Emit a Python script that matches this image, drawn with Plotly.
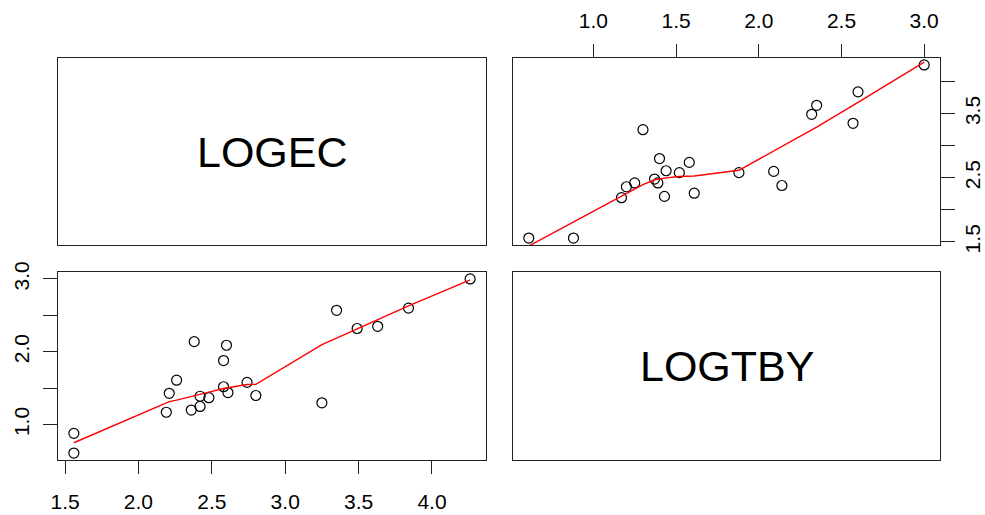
import numpy as np
import plotly.graph_objects as go

# Log-transformed measurements, one entry per observation
LOGEC = [1.56, 1.56, 2.19, 2.21, 2.26, 2.38, 2.36, 2.42, 2.42, 2.48, 2.58,
         2.58, 2.60, 2.61, 2.74, 2.80, 3.25, 3.35, 3.49, 3.63, 3.84, 4.26]
LOGTBY = [0.88, 0.61, 1.17, 1.43, 1.61, 2.14, 1.20, 1.25, 1.39, 1.37, 1.52,
          1.88, 2.09, 1.44, 1.58, 1.40, 1.30, 2.57, 2.32, 2.35, 2.60, 3.00]

VAR_NAMES = ["LOGEC", "LOGTBY"]
TICKS_LOGEC = [1.5, 2.0, 2.5, 3.0, 3.5, 4.0]
TICKS_LOGTBY_LOW = [1.0, 1.5, 2.0, 2.5, 3.0]
TICKS_LOGTBY_TOP = [1.0, 1.5, 2.0, 2.5, 3.0]


def _lowest(x, y, n, xs, nleft, nright, w, userw, rw):
    rng = x[n - 1] - x[0]
    h = max(xs - x[nleft], x[nright] - xs)
    h9, h1 = 0.999 * h, 0.001 * h
    a = 0.0
    j = nleft
    while j < n:
        w[j] = 0.0
        r = abs(x[j] - xs)
        if r <= h9:
            w[j] = 1.0 if r <= h1 else (1 - (r / h) ** 3) ** 3
            if userw:
                w[j] *= rw[j]
            a += w[j]
        elif x[j] > xs:
            break
        j += 1
    nrt = j - 1
    if a <= 0:
        return 0.0, False
    for k in range(nleft, nrt + 1):
        w[k] /= a
    if h > 0:
        a = sum(w[k] * x[k] for k in range(nleft, nrt + 1))
        b = xs - a
        c = sum(w[k] * (x[k] - a) ** 2 for k in range(nleft, nrt + 1))
        if np.sqrt(c) > 0.001 * rng:
            b /= c
            for k in range(nleft, nrt + 1):
                w[k] *= (b * (x[k] - a) + 1.0)
    ys = sum(w[k] * y[k] for k in range(nleft, nrt + 1))
    return ys, True


def lowess(xv, yv, f=2 / 3, iters=3):
    """Locally weighted scatterplot smoother (Cleveland's algorithm)."""
    order = np.argsort(np.asarray(xv, float), kind="stable")
    x = np.asarray(xv, float)[order]
    y = np.asarray(yv, float)[order]
    n = len(x)
    delta = 0.01 * (x[-1] - x[0])
    ns = max(min(int(f * n + 1e-7), n), 2)
    ys = np.zeros(n)
    rw = np.ones(n)
    res = np.zeros(n)
    for it in range(iters + 1):
        nleft, nright, last, i = 0, ns - 1, -1, 0
        while True:
            if nright < n - 1:
                d1 = x[i] - x[nleft]
                d2 = x[nright + 1] - x[i]
                if d1 > d2:
                    nleft += 1
                    nright += 1
                    continue
            val, ok = _lowest(x, y, n, x[i], nleft, nright, res, it > 0, rw)
            ys[i] = val if ok else y[i]
            if last < i - 1:
                denom = x[i] - x[last]
                for j in range(last + 1, i):
                    alpha = (x[j] - x[last]) / denom
                    ys[j] = alpha * ys[i] + (1 - alpha) * ys[last]
            last = i
            cut = x[last] + delta
            i = last + 1
            while i < n:
                if x[i] > cut:
                    break
                if x[i] == x[last]:
                    ys[i] = ys[last]
                    last = i
                i += 1
            i = max(last + 1, i - 1)
            if last >= n - 1:
                break
        res = y - ys
        sc = np.sum(np.abs(res)) / n
        if it >= iters:
            break
        rws = np.sort(np.abs(res))
        m1 = n // 2
        if n % 2 == 0:
            cmad = 3.0 * (rws[m1] + rws[n - m1 - 1])
        else:
            cmad = 6.0 * rws[m1]
        if cmad < 1e-7 * sc:
            break
        c9, c1 = 0.999 * cmad, 0.001 * cmad
        r = np.abs(res)
        rw = np.where(r <= c1, 1.0,
                      np.where(r <= c9, (1 - (r / cmad) ** 2) ** 2, 0.0))
        res = np.zeros(n)
    return x, ys


def padded(v):
    lo, hi = min(v), max(v)
    d = 0.04 * (hi - lo)
    return [lo - d, hi + d]


W, H = 985, 515
COL_L, COL_R = (58, 486), (513, 940)
ROW_T, ROW_B = (58, 245), (272, 460)


def xdom(c):
    return [c[0] / W, c[1] / W]


def ydom(r):
    return [(H - r[1]) / H, (H - r[0]) / H]


FONT = "Liberation Sans, Arial, Helvetica, sans-serif"
tickfont = dict(family=FONT, size=21, color="black")

fig = go.Figure()

# lower-left: LOGTBY against LOGEC
sx, sy = lowess(LOGEC, LOGTBY)
fig.add_trace(go.Scatter(x=LOGEC, y=LOGTBY, mode="markers", xaxis="x", yaxis="y",
                         marker=dict(symbol="circle-open", size=10, color="black",
                                     line=dict(width=1.2, color="black"))))
fig.add_trace(go.Scatter(x=sx, y=sy, mode="lines", xaxis="x", yaxis="y",
                         line=dict(color="red", width=1.4)))

# upper-right: LOGEC against LOGTBY
tx, ty = lowess(LOGTBY, LOGEC)
fig.add_trace(go.Scatter(x=LOGTBY, y=LOGEC, mode="markers", xaxis="x2", yaxis="y2",
                         marker=dict(symbol="circle-open", size=10, color="black",
                                     line=dict(width=1.2, color="black"))))
fig.add_trace(go.Scatter(x=tx, y=ty, mode="lines", xaxis="x2", yaxis="y2",
                         line=dict(color="red", width=1.4)))

box = dict(showline=True, linecolor="#222", linewidth=1, mirror=True,
           showgrid=False, zeroline=False, fixedrange=True, automargin=False)


def fmt(v):
    return f"{v:.1f}"


fig.update_layout(
    width=W, height=H, margin=dict(l=0, r=0, t=0, b=0, autoexpand=False),
    paper_bgcolor="white", plot_bgcolor="white", showlegend=False,
    xaxis=dict(domain=xdom(COL_L), anchor="y", side="bottom", range=padded(LOGEC),
               tickvals=TICKS_LOGEC, ticktext=[fmt(v) for v in TICKS_LOGEC],
               ticks="outside", ticklen=13, tickcolor="#222", tickfont=tickfont,
               ticklabelstandoff=10, **box),
    yaxis=dict(domain=ydom(ROW_B), anchor="x", side="left", range=padded(LOGTBY),
               tickvals=TICKS_LOGTBY_LOW,
               ticktext=[fmt(v) if i % 2 == 0 else "" for i, v in enumerate(TICKS_LOGTBY_LOW)],
               tickangle=-90, ticks="outside", ticklen=14, tickcolor="#222",
               tickfont=tickfont, ticklabelstandoff=6, **box),
    xaxis2=dict(domain=xdom(COL_R), anchor="y2", side="top", range=padded(LOGTBY),
                tickvals=TICKS_LOGTBY_TOP, ticktext=[fmt(v) for v in TICKS_LOGTBY_TOP],
                ticks="outside", ticklen=13, tickcolor="#222", tickfont=tickfont,
                ticklabelstandoff=8, **box),
    yaxis2=dict(domain=ydom(ROW_T), anchor="x2", side="right", range=padded(LOGEC),
                tickvals=TICKS_LOGEC,
                ticktext=[fmt(v) if i % 2 == 0 else "" for i, v in enumerate(TICKS_LOGEC)],
                tickangle=-90, ticks="outside", ticklen=14, tickcolor="#222",
                tickfont=tickfont, ticklabelstandoff=0, **box),
    xaxis3=dict(domain=xdom(COL_L), anchor="y3", range=[0, 1], showticklabels=False,
                ticks="", **box),
    yaxis3=dict(domain=ydom(ROW_T), anchor="x3", range=[0, 1], showticklabels=False,
                ticks="", **box),
    xaxis4=dict(domain=xdom(COL_R), anchor="y4", range=[0, 1], showticklabels=False,
                ticks="", **box),
    yaxis4=dict(domain=ydom(ROW_B), anchor="x4", range=[0, 1], showticklabels=False,
                ticks="", **box),
)

# variable names on the diagonal panels
for name, xr, yr in [(VAR_NAMES[0], "x3", "y3"), (VAR_NAMES[1], "x4", "y4")]:
    fig.add_annotation(x=0.5, y=0.5, xref=xr, yref=yr, text=name, showarrow=False,
                       font=dict(family=FONT, size=43, color="black"),
                       xanchor="center", yanchor="middle")

fig.write_html("out.html")
